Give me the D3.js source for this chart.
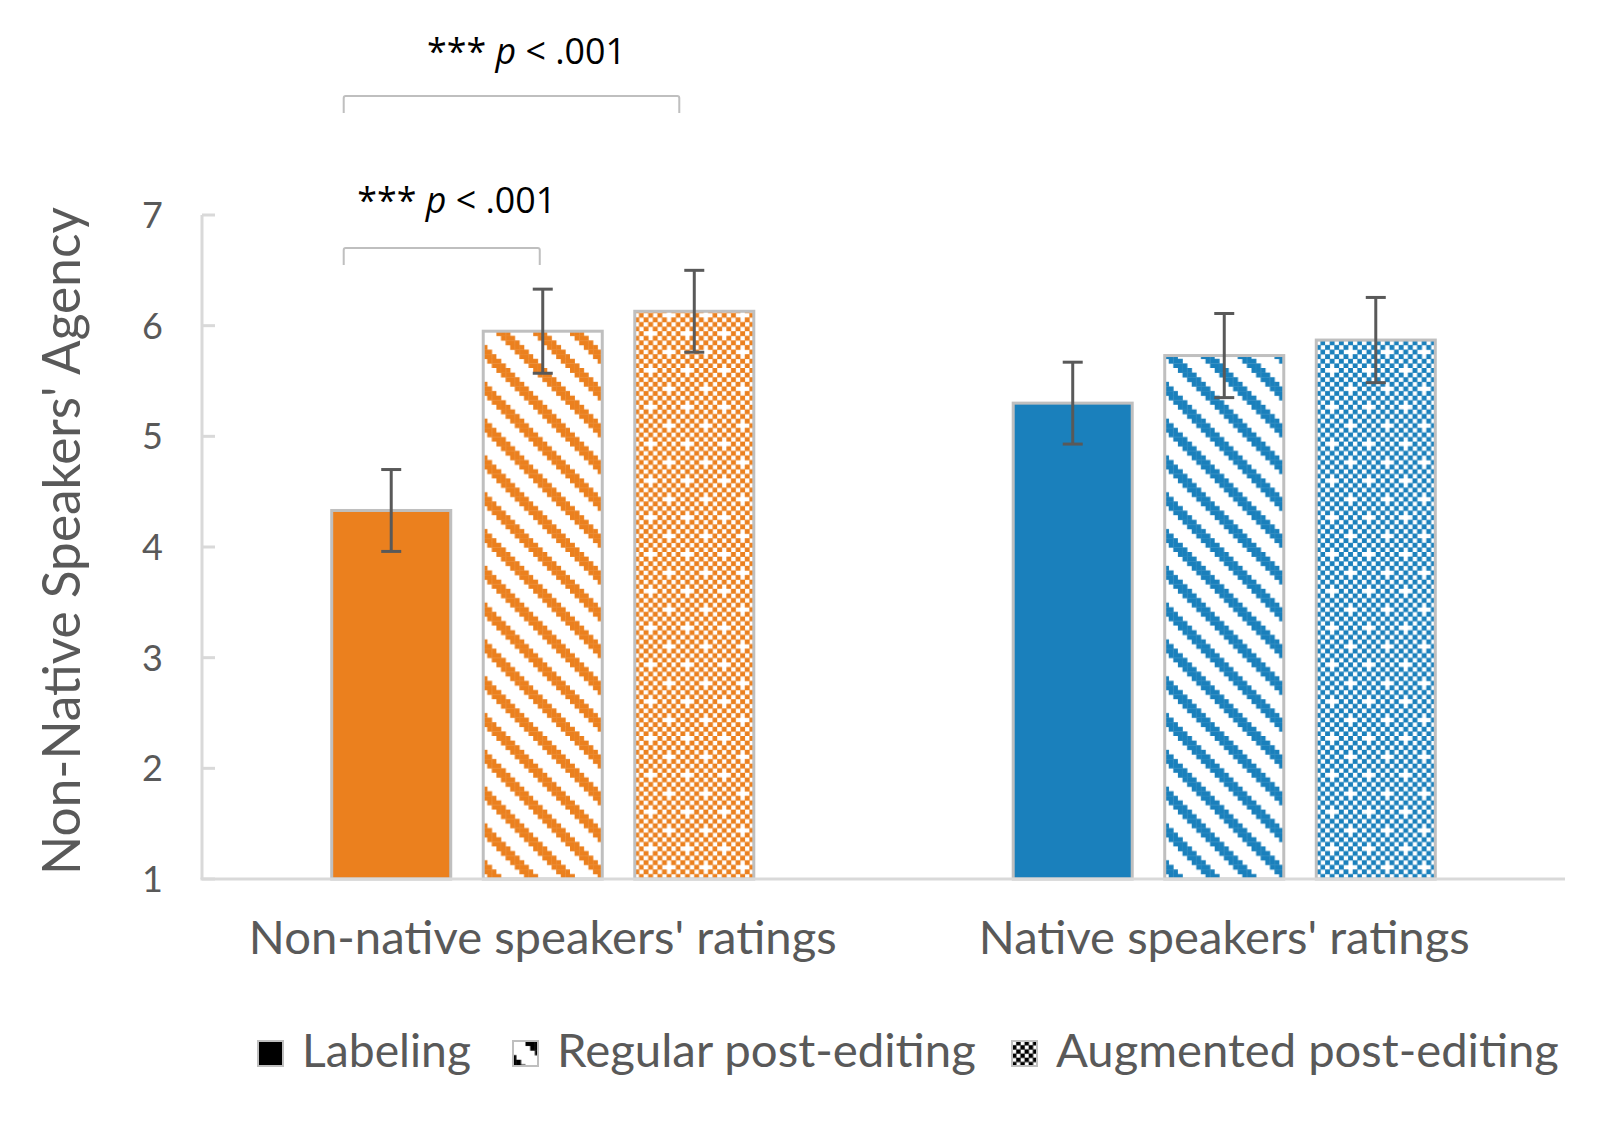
<!DOCTYPE html>
<html>
<head>
<meta charset="utf-8">
<script src="https://cdn.jsdelivr.net/npm/d3@7"></script>
<style>
  body { margin: 0; background: #fff; }
  text { font-family: Lato, "Noto Sans", sans-serif; fill: #595959; }
  .note { font-family: "Open Sans", "Noto Sans", sans-serif; fill: #000; }
</style>
</head>
<body>
<svg id="chart" width="1622" height="1136"></svg>
<script>
// data
var groups = ["Non-native speakers' ratings", "Native speakers' ratings"];
var conditions = ["Labeling", "Regular post-editing", "Augmented post-editing"];
var nonNativeMeans = [4.33, 5.95, 6.13];
var nonNativeErr = [0.37, 0.38, 0.37];
var nativeMeans = [5.30, 5.73, 5.87];
var nativeErr = [0.37, 0.38, 0.385];
var yTicks = [1, 2, 3, 4, 5, 6, 7];
var groupColors = ["#eb801e", "#1a80bc"];
// significance brackets inside the first group: [from condition, to condition]
var sigPairs = [[0, 2], [0, 1]];
var sigLabels = ["p < .001", "p < .001"];

(function() {
    'use strict';
    var svg = d3.select("#chart");
    var defs = svg.append("defs");

    var plotLeft = 202, plotRight = 1565, plotTop = 215, plotBottom = 879;

    var y = d3.scaleLinear().domain([1, 7]).range([plotBottom, plotTop]);
    var x0 = d3.scaleBand().domain(groups).range([plotLeft, plotRight]).padding(0);
    var x1 = d3.scaleBand().domain(conditions).range([0, x0.bandwidth()])
        .paddingInner(0.2145).paddingOuter(0.856);

    // pixel patterns like the office chart fills
    function newPattern(id, cell, n, shift) {
        var p = defs.append("pattern").attr("id", id)
            .attr("patternUnits", "userSpaceOnUse")
            .attr("width", cell * n).attr("height", cell * n);
        if (shift) p.attr("patternTransform", "translate(" + shift[0] + "," + shift[1] + ")");
        p.append("rect").attr("width", cell * n).attr("height", cell * n).attr("fill", "#fff");
        return p;
    }
    function stripePattern(id, color, cell, shift) {
        var n = 8, p = newPattern(id, cell, n, shift);
        for (var i = 0; i < n; i++) {
            for (var j = 0; j < n; j++) {
                if (((j - i) % n + n) % n < 3) {
                    p.append("rect").attr("x", j * cell).attr("y", i * cell)
                        .attr("width", cell + 0.3).attr("height", cell + 0.3).attr("fill", color);
                }
            }
        }
    }
    function checkerPattern(id, color, cell, crosses, shift) {
        var n = 8, p = newPattern(id, cell, n, shift);
        var blank = {};
        if (crosses) {
            // single missing cells make little white plus signs
            blank["1,0"] = true;
            blank["5,4"] = true;
        }
        for (var i = 0; i < n; i++) {
            for (var j = 0; j < n; j++) {
                if ((i + j) % 2 === 1 && !blank[j + "," + i]) {
                    p.append("rect").attr("x", j * cell).attr("y", i * cell)
                        .attr("width", cell + 0.3).attr("height", cell + 0.3).attr("fill", color);
                }
            }
        }
    }
    groupColors.forEach(function(c, g) {
        stripePattern("stripe" + g, c, 4.6);
        checkerPattern("check" + g, c, 4.6, true);
    });

    function fillFor(g, k) {
        if (k === 0) return groupColors[g];
        if (k === 1) return "url(#stripe" + g + ")";
        return "url(#check" + g + ")";
    }

    function fit(sel, w) {
        var fs = parseFloat(sel.style("font-size"));
        var cur = sel.node().getComputedTextLength();
        sel.style("font-size", (fs * w / cur) + "px");
    }

    // y axis
    var axisColor = "#d9d9d9";
    svg.append("line").attr("x1", plotLeft).attr("x2", plotLeft).attr("y1", plotTop).attr("y2", plotBottom)
        .attr("stroke", axisColor).attr("stroke-width", 3);
    svg.selectAll(".tick").data(yTicks).enter().append("line")
        .attr("x1", plotLeft).attr("x2", plotLeft + 13)
        .attr("y1", function(d) { return y(d); }).attr("y2", function(d) { return y(d); })
        .attr("stroke", axisColor).attr("stroke-width", 3);
    svg.selectAll(".ylab").data(yTicks).enter().append("text")
        .attr("x", 163).attr("y", function(d) { return y(d); })
        .attr("dy", "0.36em").attr("text-anchor", "end")
        .style("font-size", "36px").text(function(d) { return d; });

    var yTitle = svg.append("text")
        .attr("transform", "translate(80," + ((plotTop + plotBottom) / 2 - 6) + ") rotate(-90)")
        .attr("text-anchor", "middle").style("font-size", "50px")
        .text("Non-Native Speakers' Agency");
    fit(yTitle, 668);

    // bars + error bars
    var data = [
        { means: nonNativeMeans, err: nonNativeErr },
        { means: nativeMeans, err: nativeErr }
    ];
    data.forEach(function(d, g) {
        var gx = x0(groups[g]);
        var gr = svg.append("g").attr("transform", "translate(" + gx + ",0)");
        gr.selectAll("rect").data(d.means).enter().append("rect")
            .attr("x", function(v, k) { return x1(conditions[k]); })
            .attr("y", function(v) { return y(v); })
            .attr("width", x1.bandwidth())
            .attr("height", function(v) { return y(1) - y(v); })
            .attr("fill", function(v, k) { return fillFor(g, k); })
            .attr("stroke", "#bfbfbf").attr("stroke-width", 3);
        d.means.forEach(function(v, k) {
            var cx = x1(conditions[k]) + x1.bandwidth() / 2;
            var e = d.err[k];
            gr.append("line").attr("x1", cx).attr("x2", cx)
                .attr("y1", y(v + e)).attr("y2", y(v - e))
                .attr("stroke", "#595959").attr("stroke-width", 3);
            [v + e, v - e].forEach(function(t) {
                gr.append("line").attr("x1", cx - 10).attr("x2", cx + 10)
                    .attr("y1", y(t)).attr("y2", y(t))
                    .attr("stroke", "#595959").attr("stroke-width", 3);
            });
        });
        var lab = svg.append("text").attr("x", gx + x0.bandwidth() / 2).attr("y", 954)
            .attr("text-anchor", "middle").style("font-size", "44px").text(groups[g]);
        fit(lab, g === 0 ? 588 : 491);
    });
    // baseline drawn over the bars
    svg.append("line").attr("x1", plotLeft - 1.5).attr("x2", plotRight).attr("y1", plotBottom).attr("y2", plotBottom)
        .attr("stroke", axisColor).attr("stroke-width", 3);

    // significance brackets
    var bracketY = [96, 248], labelY = [64, 213];
    sigPairs.forEach(function(pr, i) {
        var gx = x0(groups[0]);
        var xa = gx + x1(conditions[pr[0]]) + 12;
        var xb = gx + x1(conditions[pr[1]]) + x1.bandwidth() / 2 - (pr[1] === 2 ? 15 : 3);
        var by = bracketY[i];
        svg.append("path")
            .attr("d", "M" + xa + "," + (by + 17) + "V" + (by + 2) + "Q" + xa + "," + by + " " + (xa + 2) + "," + by +
                "H" + (xb - 2) + "Q" + xb + "," + by + " " + xb + "," + (by + 2) + "V" + (by + 17))
            .attr("fill", "none").attr("stroke", "#bfbfbf").attr("stroke-width", 2);
        var t = svg.append("text").attr("class", "note")
            .attr("x", (xa + xb) / 2 + 15).attr("y", labelY[i])
            .attr("text-anchor", "middle").style("font-size", "36px");
        t.append("tspan").text("*** ");
        t.append("tspan").style("font-style", "italic").text(sigLabels[i].split(" ")[0]);
        t.append("tspan").text(" " + sigLabels[i].split(" ").slice(1).join(" "));
        fit(t, 199);
    });

    // legend
    var legX = [258, 513, 1012], legW = [169, 419, 503], legY = 1041, legS = 25;
    stripePattern("stripeLeg", "#000", 4.69, [legX[1] + 12.5, legY]);
    checkerPattern("checkLeg", "#000", legS / 6, false, [legX[2], legY]);
    var legFill = ["#000", "url(#stripeLeg)", "url(#checkLeg)"];
    conditions.forEach(function(c, k) {
        svg.append("rect").attr("x", legX[k]).attr("y", legY).attr("width", legS).attr("height", legS)
            .attr("fill", legFill[k]).attr("stroke", "#bfbfbf").attr("stroke-width", 2);
        var t = svg.append("text").attr("x", legX[k] + 44).attr("y", 1067)
            .style("font-size", "42px").text(c);
        fit(t, legW[k]);
    });
})();
</script>
</body>
</html>
